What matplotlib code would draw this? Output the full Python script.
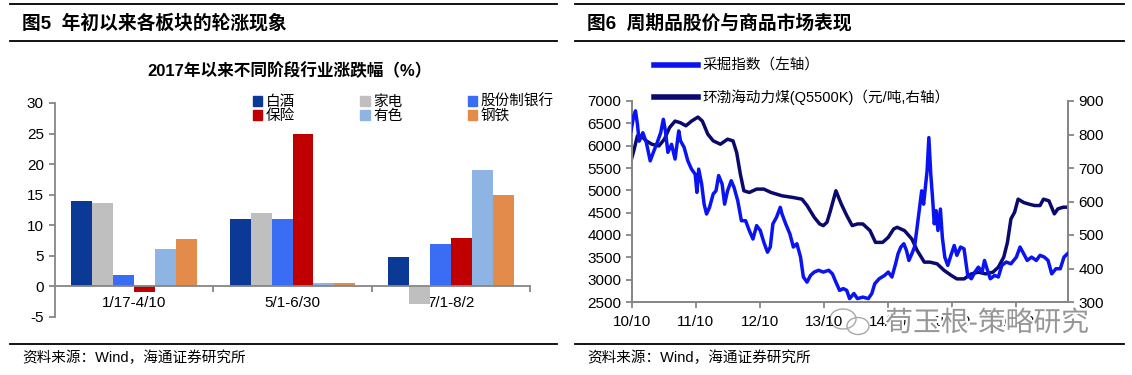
import matplotlib
matplotlib.use('Agg')
import matplotlib.pyplot as plt
import matplotlib.dates as mdates
import matplotlib.patheffects as pe
from matplotlib.lines import Line2D
from matplotlib.patches import Patch, Ellipse
import numpy as np
import pandas as pd

plt.rcParams['font.family'] = ['Liberation Sans', 'Noto Sans CJK SC']
plt.rcParams['axes.unicode_minus'] = False

# ---------------- 图5 data: 2017年以来不同阶段行业涨跌幅(%) ----------------
periods = ['1/17-4/10', '5/1-6/30', '7/1-8/2']
sectors = ['白酒', '家电', '股份制银行', '保险', '有色', '钢铁']
baijiu = [14.0, 11.0, 4.8]
jiadian = [13.6, 12.0, -2.8]
bank = [1.95, 11.0, 7.0]
baoxian = [-0.95, 25.0, 8.0]
youse = [6.2, 0.5, 19.0]
gangtie = [7.8, 0.5, 15.0]
bar_colors = ['#0b3a96', '#bfbfbf', '#3a6cf4', '#c00000', '#8eb4e3', '#e38b4a']

# ---------------- 图6 data: 采掘指数 (left) / 环渤海动力煤 (right) ----------------
mining_dates = ['2010-10-04', '2010-10-20', '2010-10-30', '2010-11-10', '2010-11-20', '2010-12-11',
                '2010-12-31', '2011-01-22', '2011-02-12', '2011-03-03', '2011-03-23', '2011-04-07',
                '2011-04-19', '2011-05-03', '2011-05-24', '2011-06-13', '2011-07-04', '2011-07-14',
                '2011-08-04', '2011-08-25', '2011-09-15', '2011-10-06', '2011-10-16', '2011-10-26',
                '2011-11-12', '2011-11-26', '2011-12-10', '2011-12-27', '2012-01-17', '2012-02-02',
                '2012-02-17', '2012-03-08', '2012-03-22', '2012-04-08', '2012-04-29', '2012-05-15',
                '2012-06-05', '2012-06-26', '2012-07-20', '2012-08-10', '2012-08-31', '2012-09-21',
                '2012-10-12', '2012-11-01', '2012-11-22', '2012-12-08', '2012-12-23', '2013-01-13',
                '2013-02-03', '2013-02-13', '2013-03-06', '2013-03-30', '2013-04-19', '2013-05-09',
                '2013-05-30', '2013-06-15', '2013-07-06', '2013-07-26', '2013-08-16', '2013-09-10',
                '2013-10-07', '2013-11-07', '2013-11-28', '2013-12-18', '2014-01-08', '2014-01-29',
                '2014-02-18', '2014-03-06', '2014-03-31', '2014-04-20', '2014-05-21', '2014-06-21',
                '2014-07-11', '2014-07-28', '2014-08-22', '2014-09-22', '2014-10-13', '2014-11-03',
                '2014-11-24', '2014-12-08', '2014-12-24', '2015-01-10', '2015-01-25', '2015-02-08',
                '2015-02-25', '2015-03-12', '2015-03-27', '2015-04-10', '2015-04-22', '2015-05-03',
                '2015-05-13', '2015-05-23', '2015-06-02', '2015-06-13', '2015-06-23', '2015-07-03',
                '2015-07-13', '2015-07-24', '2015-08-07', '2015-08-18', '2015-09-01', '2015-09-18',
                '2015-10-09', '2015-10-25', '2015-11-09', '2015-11-30', '2015-12-20', '2016-01-10',
                '2016-01-31', '2016-02-20', '2016-03-11', '2016-04-01', '2016-04-15', '2016-05-02',
                '2016-05-18', '2016-06-12', '2016-07-03', '2016-07-23', '2016-08-17', '2016-09-13',
                '2016-10-14', '2016-11-04', '2016-11-25', '2016-12-15', '2017-01-09', '2017-02-05',
                '2017-02-26', '2017-03-23', '2017-04-13', '2017-05-04', '2017-05-28', '2017-06-22',
                '2017-07-13', '2017-08-02']
mining_vals = [6330, 6665, 6780, 6480, 6100, 6290,
               6070, 5660, 5880, 6070, 6290, 6590,
               6330, 5850, 6030, 5700, 6330, 6110,
               5960, 5660, 5475, 5360, 4955, 5475,
               5140, 4690, 4470, 4620, 4920, 4990,
               5330, 5140, 4690, 4990, 5215, 5065,
               4770, 4320, 4320, 4100, 3910, 4210,
               4100, 3840, 3615, 3730, 4250, 4400,
               4620, 4470, 4250, 4025, 3730, 3805,
               3505, 3060, 2945, 3095, 3170, 3210,
               3170, 3210, 3130, 2945, 2760, 2800,
               2760, 2575, 2690, 2575, 2610, 2575,
               2690, 2910, 3020, 3095, 3170, 3060,
               3355, 3580, 3730, 3805, 3655, 3430,
               3580, 3730, 4175, 4620, 4990, 4690,
               5065, 5440, 6180, 5360, 4840, 4250,
               4545, 4100, 4580, 3950, 3505, 3320,
               3580, 3765, 3545, 3730, 3690, 3095,
               3020, 3170, 3280, 3170, 3430, 3210,
               3020, 3095, 3060, 3320, 3395, 3355,
               3505, 3730, 3580, 3430, 3505, 3430,
               3545, 3505, 3430, 3130, 3245, 3245,
               3505, 3580]

coal_dates = ['2010-10-04', '2010-10-20', '2010-11-10', '2010-11-30', '2010-12-31', '2011-01-31',
              '2011-03-13', '2011-04-13', '2011-05-13', '2011-06-13', '2011-07-14', '2011-08-14',
              '2011-09-15', '2011-10-22', '2011-11-16', '2011-12-17', '2012-01-17', '2012-02-27',
              '2012-04-08', '2012-05-09', '2012-05-30', '2012-06-20', '2012-07-10', '2012-08-10',
              '2012-09-21', '2012-11-01', '2012-12-12', '2013-02-13', '2013-04-17', '2013-06-07',
              '2013-07-06', '2013-08-16', '2013-09-16', '2013-10-07', '2013-10-28', '2013-11-17',
              '2013-12-18', '2014-01-18', '2014-02-18', '2014-03-21', '2014-04-20', '2014-05-21',
              '2014-07-01', '2014-08-01', '2014-09-11', '2014-10-13', '2014-11-13', '2014-12-03',
              '2015-01-14', '2015-02-25', '2015-03-27', '2015-05-07', '2015-06-08', '2015-07-19',
              '2015-08-29', '2015-10-09', '2015-11-09', '2015-12-20', '2016-01-31', '2016-03-11',
              '2016-04-22', '2016-06-02', '2016-07-03', '2016-08-03', '2016-08-24', '2016-09-13',
              '2016-10-04', '2016-10-24', '2016-11-25', '2016-12-26', '2017-01-26', '2017-02-26',
              '2017-03-18', '2017-04-18', '2017-05-19', '2017-06-08', '2017-07-09', '2017-08-02']
coal_vals = [721, 751, 796, 796, 781, 771,
             766, 786, 821, 840, 835, 826,
             840, 852, 840, 801, 781, 771,
             786, 781, 746, 682, 632, 627,
             637, 637, 627, 617, 612, 607,
             588, 553, 533, 528, 538, 573,
             632, 592, 558, 528, 533, 533,
             513, 478, 478, 493, 518, 523,
             513, 488, 454, 419, 419, 414,
             394, 379, 369, 369, 384, 389,
             384, 389, 404, 434, 478, 548,
             568, 607, 597, 592, 588, 588,
             607, 602, 563, 578, 583, 583]

xtick_dates = ['2010-10-10', '2011-10-10', '2012-10-10', '2013-10-10',
               '2014-10-10', '2015-10-10', '2016-10-10']
xtick_labels = ['10/10', '11/10', '12/10', '13/10', '14/10', '15/10', '16/10']

W, H = 1132, 375
fx = lambda px: px / W
fy = lambda py: 1 - py / H
GRAY = '#868686'

fig = plt.figure(figsize=(W / 100, H / 100), dpi=100)

# ---------------- frames, titles, sources ----------------
for x0, x1, title in [(10, 557, '图5  年初以来各板块的轮涨现象'),
                      (575, 1124, '图6  周期品股价与商品市场表现')]:
    for yy in (4, 41, 344):
        fig.add_artist(Line2D([fx(x0), fx(x1)], [fy(yy), fy(yy)], color='black', lw=1.3))
    fig.text(fx(x0 + 12), fy(23), title, fontsize=13.5, fontweight='bold', va='center')
    fig.text(fx(x0 + 12), fy(358), '资料来源：Wind，海通证券研究所', fontsize=10.5, va='center')

# ---------------- 图5 bar chart ----------------
ax = fig.add_axes([fx(55), fy(317), fx(530) - fx(55), fy(103) - fy(317)])
series = [baijiu, jiadian, bank, baoxian, youse, gangtie]
x = np.arange(len(periods))
bw = 0.795 / len(series)
handles = []
for i, (vals, name, c) in enumerate(zip(series, sectors, bar_colors)):
    ax.bar(x - 0.3975 + bw * (i + 0.5), vals, width=bw, color=c, zorder=2)
    handles.append(Patch(color=c, label=name))
ax.set_xlim(-0.5, 2.5)
ax.set_ylim(-5, 30)
ax.set_yticks(range(-5, 31, 5))
ax.spines['bottom'].set_position(('data', 0))
for s in ('top', 'right'):
    ax.spines[s].set_visible(False)
for s in ('left', 'bottom'):
    ax.spines[s].set_color(GRAY)
    ax.spines[s].set_linewidth(1.3)
ax.set_xticks(x)
ax.set_xticklabels(periods, fontsize=11)
ax.set_xticks([0.5, 1.5, 2.5], minor=True)
ax.tick_params(axis='x', which='major', length=0, pad=7)
ax.tick_params(axis='x', which='minor', length=4, color=GRAY, width=1.3)
ax.tick_params(axis='y', labelsize=11, length=4, color=GRAY, width=1.3, pad=4)
fig.text(fx(290), fy(71), '2017年以来不同阶段行业涨跌幅（%）', fontsize=12,
         fontweight='bold', ha='center', va='center')
order = [0, 3, 1, 4, 2, 5]
fig.legend([handles[k] for k in order], [sectors[k] for k in order], ncol=3,
           loc='upper left', bbox_to_anchor=(fx(253), fy(95)), frameon=False,
           fontsize=10.5, handlelength=0.65, handleheight=0.65, handletextpad=0.25,
           columnspacing=4.45, labelspacing=0.0, borderpad=0, borderaxespad=0)

# ---------------- 图6 dual-axis lines ----------------
ax2 = fig.add_axes([fx(632), fy(302), fx(1068) - fx(632), fy(101) - fy(302)])
ax3 = ax2.twinx()
l1, = ax2.plot(pd.to_datetime(mining_dates), mining_vals, color='#0a14f0', lw=2.5,
               label='采掘指数（左轴）', zorder=3)
l2, = ax3.plot(pd.to_datetime(coal_dates), coal_vals, color='#0a0a6e', lw=2.5,
               label='环渤海动力煤(Q5500K)（元/吨,右轴）')
ax2.set_zorder(ax3.get_zorder() + 1)
ax2.patch.set_visible(False)
ax2.set_xlim(pd.Timestamp('2010-10-10'), pd.Timestamp('2017-08-05'))
ax2.set_ylim(2500, 7000)
ax2.set_yticks(range(2500, 7001, 500))
ax3.set_ylim(300, 900)
ax3.set_yticks(range(300, 901, 100))
ax2.set_xticks(pd.to_datetime(xtick_dates))
ax2.set_xticklabels(xtick_labels, fontsize=11)
for a in (ax2, ax3):
    a.spines['top'].set_visible(False)
    for s in ('left', 'right', 'bottom'):
        a.spines[s].set_color(GRAY)
        a.spines[s].set_linewidth(1.3)
    a.tick_params(labelsize=11, length=4, color=GRAY, width=1.3)
ax2.tick_params(axis='x', pad=5)
fig.legend([l1, l2], [l1.get_label(), l2.get_label()], loc='upper left',
           bbox_to_anchor=(fx(654), fy(59)), frameon=False, fontsize=10.5,
           handlelength=3.0, handletextpad=0.3, labelspacing=1.1, borderpad=0,
           borderaxespad=0)
for lh in fig.legends[-1].get_lines():
    lh.set_linewidth(4)

# ---------------- watermark ----------------
fig.add_artist(Ellipse((fx(843), fy(319)), fx(26), 20 / H, fill=False, ec='#a8a8a8', lw=1))
fig.add_artist(Ellipse((fx(858), fy(326)), fx(22), 17 / H, fill=False, ec='#a8a8a8', lw=1))
fig.text(fx(987), fy(324), '荀玉根-策略研究', fontsize=20, color='#969696',
         ha='center', va='center', zorder=10,
         path_effects=[pe.withStroke(linewidth=3, foreground='white')])

fig.savefig('out.png', dpi=100)
